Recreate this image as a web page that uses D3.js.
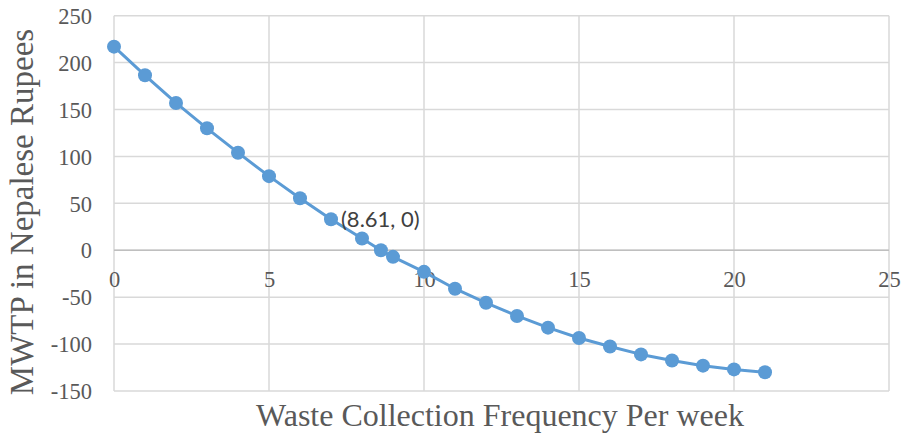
<!DOCTYPE html>
<html>
<head>
<meta charset="utf-8">
<script src="https://cdn.jsdelivr.net/npm/d3@7"></script>
<style>
  html, body { margin: 0; padding: 0; background: #fff; }
  svg { display: block; }
</style>
</head>
<body>
<svg id="chart" width="903" height="437"></svg>
<script>
// Weekly collection frequency and marginal willingness to pay (NPR)
const frequency = [0, 1, 2, 3, 4, 5, 6, 7, 8, 8.61, 9, 10, 11, 12, 13, 14, 15, 16, 17, 18, 19, 20, 21];
const mwtp = [217, 186.5, 157, 130, 104, 79, 55.5, 33, 12.5, 0, -7, -23, -41, -56, -70, -82.5, -93.5, -102.5, -111, -117.5, -123, -127, -130];
const xTicks = [0, 5, 10, 15, 20, 25];
const yTicks = [250, 200, 150, 100, 50, 0, -50, -100, -150];
const rootLabel = "(8.61, 0)";
const xTitle = "Waste Collection Frequency Per week";
const yTitle = "MWTP in Nepalese Rupees";

const SERIF = '"Liberation Serif"';
const SANS = '"Lato"';
const tickColor = "#595959";
// plain hyphen-minus for negative tick values
const plain = d => String(d);

const svg = d3.select("#chart");
const x = d3.scaleLinear().domain([0, 25]).range([114, 889]);
const y = d3.scaleLinear().domain([-150, 250]).range([391, 15.7]);

// gridlines
const grid = svg.append("g");
grid.selectAll("line.h").data(yTicks).join("line")
  .attr("x1", x(0)).attr("x2", x(25))
  .attr("y1", d => y(d)).attr("y2", d => y(d))
  .attr("stroke", "#d9d9d9").attr("stroke-width", 1.5);
grid.selectAll("line.v").data(xTicks).join("line")
  .attr("y1", y(250)).attr("y2", y(-150))
  .attr("x1", d => x(d)).attr("x2", d => x(d))
  .attr("stroke", "#d9d9d9").attr("stroke-width", 1.5);
// horizontal axis line through zero
svg.append("line")
  .attr("x1", x(0)).attr("x2", x(25))
  .attr("y1", y(0)).attr("y2", y(0))
  .attr("stroke", "#bfbfbf").attr("stroke-width", 1.5);

// y tick labels
const gy = svg.append("g").attr("transform", "translate(92,0)")
  .call(d3.axisLeft(y).tickValues(yTicks).tickFormat(plain).tickSize(0).tickPadding(0));
gy.select(".domain").remove();
gy.selectAll("text")
  .style("font-family", SERIF).style("font-size", "22.5px")
  .attr("fill", tickColor).attr("dy", "0.34em");

// x tick labels sit just under the zero line
const gx = svg.append("g").attr("transform", `translate(0,${y(0)})`)
  .call(d3.axisBottom(x).tickValues(xTicks).tickFormat(plain).tickSize(0).tickPadding(0));
gx.select(".domain").remove();
gx.selectAll("text")
  .style("font-family", SERIF).style("font-size", "22.5px")
  .attr("fill", tickColor).attr("y", 0).attr("dy", 37);

// series line and markers
const line = d3.line().x((d, i) => x(frequency[i])).y(d => y(d));
svg.append("path").datum(mwtp)
  .attr("d", line)
  .attr("fill", "none").attr("stroke", "#5b9bd5").attr("stroke-width", 3)
  .attr("stroke-linejoin", "round");
svg.append("g").selectAll("circle").data(mwtp).join("circle")
  .attr("cx", (d, i) => x(frequency[i])).attr("cy", d => y(d))
  .attr("r", 7).attr("fill", "#5b9bd5");

// label for the zero crossing
svg.append("text")
  .attr("x", 341).attr("y", 227)
  .style("font-family", SANS).style("font-size", "22px")
  .attr("fill", "#404040")
  .text(rootLabel);

// axis titles
svg.append("text")
  .attr("x", 500).attr("y", 426).attr("text-anchor", "middle")
  .style("font-family", SERIF).style("font-size", "32px")
  .attr("fill", tickColor)
  .text(xTitle);
svg.append("text")
  .attr("transform", "translate(33,212) rotate(-90)").attr("text-anchor", "middle")
  .style("font-family", SERIF).style("font-size", "33px")
  .attr("fill", tickColor)
  .text(yTitle);
</script>
</body>
</html>
